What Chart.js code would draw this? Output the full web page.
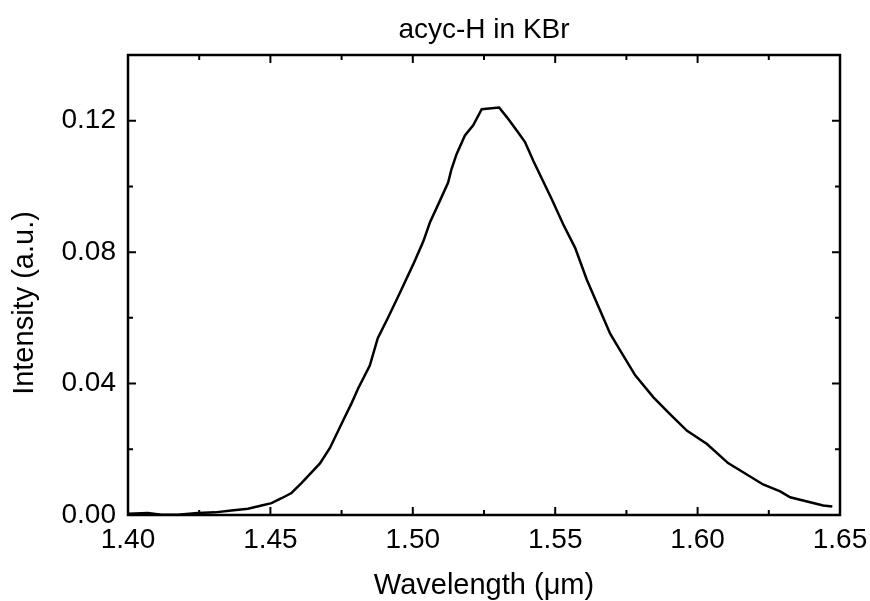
<!DOCTYPE html>
<html>
<head>
<meta charset="utf-8">
<script src="https://cdn.jsdelivr.net/npm/chart.js@4.4.1/dist/chart.umd.min.js"></script>
<style>
html,body{margin:0;padding:0;background:#fff;}
canvas{display:block;}
</style>
</head>
<body>
<canvas id="c" width="870" height="601"></canvas>
<script>
// Wavelength (µm)
const wavelength = [
  1.400, 1.407, 1.4117, 1.4175, 1.4245, 1.4305, 1.4363, 1.4421, 1.4469, 1.4504,
  1.4539, 1.4574, 1.4609, 1.4674, 1.4709, 1.4755, 1.4786, 1.4808, 1.4849, 1.4877,
  1.4912, 1.4954, 1.5001, 1.5037, 1.5060, 1.5095, 1.5124, 1.5136, 1.5154, 1.5183,
  1.5212, 1.5242, 1.5303, 1.5330, 1.5365, 1.5394, 1.5423, 1.5488, 1.5528, 1.5570,
  1.5611, 1.5657, 1.5693, 1.5728, 1.5781, 1.5845, 1.5903, 1.5963, 1.6033, 1.6107,
  1.6230, 1.6290, 1.6325, 1.6441, 1.6473
];
// Intensity (a.u.)
const intensity = [
  0.0004, 0.0006, 0.0001, 0.0001, 0.0006, 0.0008, 0.0014, 0.0019, 0.0029, 0.0036,
  0.0051, 0.0067, 0.0097, 0.0157, 0.0204, 0.0287, 0.0342, 0.0385, 0.0455, 0.0538,
  0.0599, 0.0675, 0.0762, 0.0833, 0.0890, 0.0956, 0.1012, 0.1053, 0.1099, 0.1155,
  0.1186, 0.1235, 0.1240, 0.1211, 0.1170, 0.1135, 0.1078, 0.0961, 0.0885, 0.0813,
  0.0716, 0.0624, 0.0552, 0.0501, 0.0425, 0.0358, 0.0307, 0.0256, 0.0216, 0.0158,
  0.0093, 0.0072, 0.0054, 0.0029, 0.0026
];
const xTickValues = [1.40, 1.45, 1.50, 1.55, 1.60, 1.65];
const xMinorValues = [1.425, 1.475, 1.525, 1.575, 1.625];
const yTickValues = [0.00, 0.04, 0.08, 0.12];
const yMinorValues = [0.02, 0.06, 0.10, 0.14];
const chartTitle = 'acyc-H in KBr';
const xTitle = 'Wavelength (\u03bcm)';
const yTitle = 'Intensity (a.u.)';

const points = wavelength.map((w, i) => ({x: w, y: intensity[i]}));
const FONT = '"Liberation Sans", Arial, Helvetica, sans-serif';

const framePlugin = {
  id: 'frame',
  afterDraw(chart) {
    const {ctx, chartArea: a, scales: {x, y}} = chart;
    ctx.save();
    ctx.strokeStyle = '#000';
    ctx.lineWidth = 2.5;
    ctx.strokeRect(a.left, a.top, a.right - a.left, a.bottom - a.top);
    ctx.lineWidth = 2;
    ctx.beginPath();
    const tx = (v, len) => {
      const px = x.getPixelForValue(v);
      ctx.moveTo(px, a.bottom); ctx.lineTo(px, a.bottom - len);
      ctx.moveTo(px, a.top); ctx.lineTo(px, a.top + len);
    };
    const ty = (v, len) => {
      const py = y.getPixelForValue(v);
      ctx.moveTo(a.left, py); ctx.lineTo(a.left + len, py);
      ctx.moveTo(a.right, py); ctx.lineTo(a.right - len, py);
    };
    xTickValues.forEach(v => tx(v, 8));
    xMinorValues.forEach(v => tx(v, 5));
    yTickValues.forEach(v => ty(v, 8));
    yMinorValues.forEach(v => ty(v, 5));
    ctx.stroke();
    // y axis title
    ctx.fillStyle = '#000';
    ctx.font = '29px ' + FONT;
    ctx.textAlign = 'center';
    ctx.textBaseline = 'middle';
    ctx.translate(25, 303);
    ctx.rotate(-Math.PI / 2);
    ctx.fillText(yTitle, 0, 0);
    ctx.restore();
  }
};

new Chart(document.getElementById('c'), {
  type: 'line',
  data: {
    datasets: [{
      data: points,
      borderColor: '#000',
      borderWidth: 2.5,
      pointRadius: 0,
      tension: 0,
      fill: false
    }]
  },
  options: {
    responsive: false,
    animation: false,
    devicePixelRatio: 1,
    layout: {padding: {left: 0, right: 30, top: 0, bottom: 0}},
    plugins: {
      legend: {display: false},
      tooltip: {enabled: false},
      title: {
        display: true,
        text: chartTitle,
        color: '#000',
        fullSize: false,
        font: {family: FONT, size: 28, weight: 'normal', lineHeight: 1.2},
        padding: {top: 13, bottom: 8.4}
      }
    },
    scales: {
      x: {
        type: 'linear',
        min: 1.40,
        max: 1.65,
        grid: {display: false, drawTicks: false},
        border: {display: false},
        afterBuildTicks(s) { s.ticks = xTickValues.map(v => ({value: v})); },
        afterFit(s) { s.height = 86; s.paddingLeft = 0; s.paddingRight = 0; },
        ticks: {
          color: '#000',
          padding: 8,
          maxRotation: 0,
          font: {family: FONT, size: 28},
          callback: v => v.toFixed(2)
        },
        title: {
          display: true,
          text: xTitle,
          color: '#000',
          font: {family: FONT, size: 29, lineHeight: 1},
          padding: {top: 0, bottom: 1}
        }
      },
      y: {
        type: 'linear',
        min: 0,
        max: 0.14,
        grid: {display: false, drawTicks: false},
        border: {display: false},
        afterBuildTicks(s) { s.ticks = yTickValues.map(v => ({value: v})); },
        afterFit(s) { s.width = 128; s.paddingTop = 0; s.paddingBottom = 0; },
        ticks: {
          color: '#000',
          padding: 12,
          font: {family: FONT, size: 28},
          callback: v => v.toFixed(2)
        }
      }
    }
  },
  plugins: [framePlugin]
});
</script>
</body>
</html>
